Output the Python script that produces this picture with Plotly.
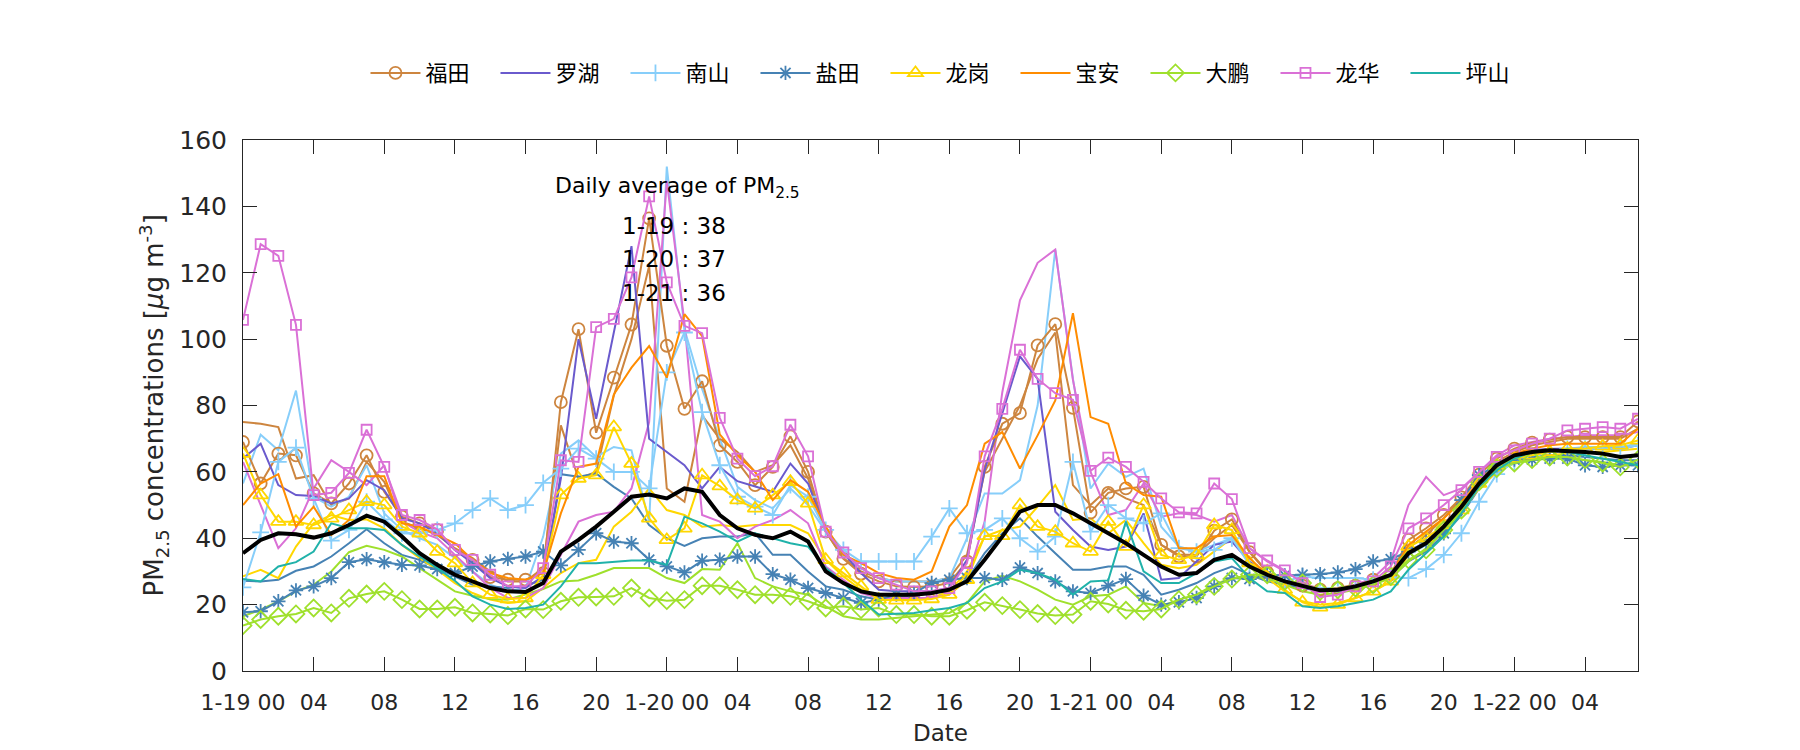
import plotly.graph_objects as go

hours = list(range(80))
tick_hours = list(range(0, 80, 4))
tick_labels = [("1-%d\u00a000" % (19 + h // 24)) if h % 24 == 0 else "%02d" % (h % 24) for h in tick_hours]

district_names = ["福田", "罗湖", "南山", "盐田", "龙岗", "宝安", "大鹏", "龙华", "坪山"]

futian_a = [69, 56.5, 65.5, 65, 53.5, 50.5, 56.5, 65, 54, 46.5, 44.5, 42.5, 36.5, 33.5, 28.3, 27.5, 27.5, 29.5,
            81, 103, 71.8, 88.4, 104.4, 136.4, 98, 79, 87.3,
            68, 63, 56, 61.5, 70.7, 60, 42, 33.8, 29.3, 27, 25.5, 25.3, 25.5, 26.5, 33, 61.5, 74.5, 77.7, 98.1, 104.5, 79.3, 47.7, 53.7, 55, 55.5, 38, 34.5,
            34.5, 42.3, 45.7, 35.8, 29.7, 27, 25.7, 24.5, 25, 25.7, 27.5, 29.2, 39.5, 43, 47, 52.3, 59.2, 64, 67, 68.8, 69.7, 70.5, 70.5, 70.5, 70.5, 75.2]
futian_b = [75, 74.5, 73.5, 58, 59, 50, 52, 63, 57, 45, 43, 41, 37, 34, 30, 27, 27, 31,
            74, 58, 60, 83, 100, 122, 55, 51, 77,
            70, 66, 60, 62, 68, 58, 42, 34, 30, 28, 27, 27, 27, 28, 35, 60, 70, 80, 94, 102, 56, 50, 55, 52, 50, 38, 35,
            35, 40, 44, 36, 30, 27, 26, 25, 25, 26, 27, 29, 37, 41, 46, 52, 58, 63, 66, 68, 69, 70, 70, 70, 70, 73]
luohu = [64, 68.5, 56, 53, 52.7, 50.5, 52, 57.5, 54.5, 46, 44.5, 41.5, 36.5, 32.5, 28, 25.5, 25, 28.5,
         58, 100, 76, 102, 128, 70, 66, 62, 55,
         61.5, 57.2, 55.5, 54, 62.5, 56.5, 42.5, 35.5, 29.5, 24.5, 24, 24, 24, 25, 33.5, 60.5, 78, 94.8, 88, 48, 42.5, 37.5, 36.5, 37.5, 47.5, 27.5, 28,
         33, 38, 39, 33, 29, 27, 25, 24, 24, 25, 27, 29, 36, 39, 44, 50, 57, 62, 65, 66.5, 67, 67, 67, 67, 67, 68]
nanshan_a = [25.2, 41.8, 63, 67.3, 52, 39.3, 42.5, 51, 45.7, 41.5, 41.5, 42.5, 44.5, 48.5, 52, 48.5, 50, 56.7,
             61, 67, 64, 60, 60, 55, 90, 102, 78,
             62, 52.5, 49.5, 47, 56, 52.5, 42.5, 36.5, 33, 33, 33, 33, 40.5, 49, 41.5, 42.5, 46, 40, 36, 40.5, 63, 42, 50, 46, 44.5, 47.5, 37,
             36, 36.5, 40, 32, 29, 27, 28.5, 28, 28, 28, 27.5, 28.2, 28, 30.7, 35, 41.5, 51, 59.3, 63, 65, 66, 67, 67, 67, 67, 68]
nanshan_b = [56.5, 71.2, 66.5, 84.5, 52.5, 49.5, 52.5, 62, 47.5, 42.5, 40, 38, 34, 30, 26, 24, 25, 40.5,
             65.5, 69.5, 64.5, 67.5, 66.5, 45, 152, 103, 85,
             70, 55.5, 51.5, 49, 55, 50, 42, 35, 31, 28, 27, 27, 27, 28, 40, 53.5, 53.5, 57.5, 80, 127, 88, 55, 62.5, 58.5, 61, 43.5, 37.5,
             36, 38, 40, 33, 29, 27, 25.5, 25, 25, 25.5, 27, 29, 35, 38, 43, 49, 56, 61, 64, 65.5, 66.5, 67, 67.5, 67.5, 67.5, 68.5]
yantian_a = [17.7, 18, 21, 24.3, 25.5, 28, 32.8, 33.7, 32.8, 32, 31.8, 30.7, 29.5, 31.5, 33, 33.8, 34.5, 36,
             31.8, 36.5, 41.5, 39, 38.5, 33.5, 31.5, 29.7, 33.2,
             33.5, 34.5, 34.5, 29.2, 27.5, 25, 23.5, 22, 20.5, 21.5, 23, 23.5, 26.5, 27.5, 28, 28, 27.5, 31.2, 29.5, 27, 24, 23.5, 25.7, 27.7, 22.7, 20, 20.7,
             22, 25.5, 28, 27.7, 29, 28.8, 29, 29.2, 29.7, 30.7, 33, 33.7, 36, 38.7, 41.5, 51.5, 59, 62, 63.7, 63.7, 64, 64, 62, 61.5, 62, 62]
yantian_b = [27.2, 27, 27.5, 30.2, 31.5, 34.5, 38.5, 42.7, 38.5, 35, 33.5, 31, 28.5, 26, 25.5, 25, 25.7, 27.5,
             59.3, 58.5, 59.5, 55.5, 52, 44, 40, 37.7, 40,
             40.5, 40.5, 41.5, 35, 35, 30, 25.5, 24.5, 22.5, 21.5, 22, 23, 24, 24.5, 27.5, 35.5, 41.5, 46, 40.5, 35.5, 30.5, 30.5, 31.5, 31.5, 29, 23, 24.5,
             26.5, 29.5, 31.5, 29, 27, 26, 25, 24.5, 24.5, 25, 26.5, 28, 33, 36, 41, 47, 55, 60, 63, 64.5, 65, 65, 64.5, 64, 63.5, 63.5]
longgang_a = [65.5, 53, 45, 45, 44, 46, 48.5, 51, 50, 43.5, 41.5, 36, 32.5, 26.5, 23, 21.7, 22, 29,
              53, 58, 59, 73.5, 62.5, 46, 39.5, 43, 59,
              55.7, 51.5, 49, 53, 57, 50.5, 33.5, 29.5, 25.5, 21.5, 21.3, 21.3, 21.7, 23, 27.5, 40.7, 40.7, 50, 43.5, 42, 38.5, 36, 45, 37.5, 50, 35, 33.5,
              35, 44, 42.5, 32.5, 30, 24.5, 20.7, 19.2, 20, 22, 24, 27, 37.5, 40, 44, 48.5, 56.5, 62, 64, 65, 66, 67, 67, 67.7, 68, 69.5]
longgang_b = [28.5, 30.5, 28, 37.5, 44.5, 47, 45.5, 45.7, 43, 38, 34, 30.5, 26.5, 23.5, 21.5, 20.5, 21, 25,
              29.5, 32.5, 33.5, 43.5, 48, 55, 48.5, 47, 43.5,
              44, 43.5, 44, 44, 44, 41.5, 33.5, 28.5, 24.5, 22, 21.5, 21.5, 22, 24, 30, 40.5, 42.5, 43.5, 49.5, 56, 45.5, 46, 41.5, 45.5, 38.5, 32, 31,
              32, 36, 40, 33, 28, 24, 21, 20, 20.5, 22, 24, 27, 35, 39, 43, 48, 55, 60, 63, 64, 65, 65.5, 66, 66, 66.5, 67]
baoan = [50, 56.5, 59.3, 43.5, 49.5, 41, 45.5, 58.7, 58.7, 44.5, 43.5, 41, 38.5, 33.5, 29.5, 28, 27.5, 29.5,
         47.5, 61.5, 62.5, 83.3, 91.4, 97.9, 88.4, 107.5, 100.9,
         71.3, 65, 60, 51.5, 57.5, 54, 43.5, 35, 32.5, 29.5, 28, 27.5, 30, 43.5, 50, 68.5, 72, 61, 71, 81.5, 107.8, 76.5, 74.5, 56.5, 53, 52.5, 37,
         37, 40.5, 41, 34, 29, 27, 25.5, 24.5, 24.5, 25.5, 27, 29, 38, 42, 46, 51, 57, 62, 65.5, 67, 68, 68.5, 68.5, 68.5, 68.5, 73]
dapeng_a = [13.7, 15.5, 16.5, 17.2, 19, 17.5, 21.9, 23.2, 24, 21.5, 18.7, 18.7, 19.2, 17.5, 17.2, 16.7, 18.7, 18.5,
            21, 22.2, 22.3, 22.5, 25, 22, 21.2, 21.5, 25.7,
            25.7, 24.5, 23, 23, 22.5, 21, 19, 19.5, 18.5, 19, 17, 17, 16.5, 16.5, 18.3, 20.7, 19.7, 18.5, 17.3, 16.7, 17, 21, 20.2, 18.3, 18, 18.7, 21.5,
            23, 25.5, 27.7, 29, 29, 27, 26.5, 24, 24.5, 25, 26, 28.5, 33.5, 36.5, 42.5, 48.5, 57, 61, 62.7, 63.7, 64.5, 64.5, 63.7, 62.7, 61.5, 63.7]
dapeng_b = [16.5, 18.5, 21, 24, 26, 30, 35.8, 37.7, 36.5, 34.5, 31, 27.5, 24, 22.7, 21.7, 21.5, 23, 24.7,
            27, 27.3, 29, 31, 31, 31, 28, 26.5, 30.7,
            30.5, 38.5, 28, 25.5, 24, 23, 19.5, 16.5, 15.5, 15.5, 16, 16.5, 17, 17.5, 20.5, 27, 28.7, 27, 24.5, 21.5, 20, 22.5, 23, 25.5, 20.5, 19.5, 21.5,
            23, 26, 28, 28.5, 28, 26, 24, 23, 23.5, 24.5, 26, 28, 33, 37, 42, 48, 56, 60.5, 62.5, 63.5, 64, 64, 63.5, 63, 62, 62.5]
longhua_a = [105.8, 128.6, 125.1, 104.3, 53, 53.7, 59.7, 72.7, 61.5, 47, 45.5, 42.7, 36.5, 33.5, 29, 25.5, 25.5, 31,
             63.5, 63, 103.6, 106.1, 118.6, 143, 117.1, 104, 101.8,
             76.3, 64, 58.7, 61.7, 74.2, 64.7, 42, 35.7, 31, 28, 26, 24, 24, 25, 32.5, 64.7, 79, 96.8, 88, 83.7, 81.7, 60.3, 64.3, 61.5, 57, 52, 47.8,
             47.5, 56.5, 51.8, 37, 33.3, 30.3, 26.5, 22.3, 23, 25.5, 27, 31.5, 43, 46, 50, 54.5, 60, 64.5, 66.5, 68.5, 70, 72.5, 73, 73.5, 73, 76]
longhua_b = [63, 50, 37, 43, 55, 63.5, 60, 56, 62, 45, 42, 40, 35, 30, 25, 22, 22, 25,
             35, 45, 47, 48, 55, 75, 147.7, 105, 47,
             45, 40, 43.5, 45.5, 48.5, 44.5, 31.5, 27.5, 23.5, 22, 22, 22, 22, 23, 27.5, 45, 84, 111.7, 123, 127, 87.7, 60, 47, 48.5, 56.5, 46.5, 47.5,
             47, 45, 47, 37, 33, 30, 27, 24, 24.5, 26, 28, 33, 50, 58.5, 53, 55, 60, 65, 68, 69, 70, 70.5, 71, 71, 71, 72]
pingshan = [27.7, 27, 31.5, 32.8, 36, 44.5, 43, 43, 42.5, 38, 34.5, 31, 27.2, 22.5, 20, 18.7, 19, 20,
            25.5, 32.5, 32.5, 32.8, 33.3, 33.3, 32, 46.5, 44.5,
            42, 39, 41.5, 40, 38.5, 37.5, 31, 26.5, 21.5, 17, 17.2, 17.5, 18.3, 19, 20.5, 25, 27, 30.5, 29.5, 27.5, 23, 27, 27.3, 45, 30, 26.5, 26.5,
            29.5, 33, 34, 28, 24, 23.5, 19.5, 19, 19.5, 20.5, 21.5, 24, 30.5, 35.5, 40.5, 47.5, 55.5, 60.5, 64, 66, 66.5, 66, 65, 64, 63, 62]
average = [35.5, 39.5, 41.5, 41.2, 40.2, 41.5, 44, 46.8, 45, 40.5, 35.5, 32, 29, 27, 25, 24, 23.8, 26.5,
           36, 39.5, 43.5, 48, 52.5, 53.2, 52, 55, 54,
           47, 43, 41, 40, 42, 39, 30, 26.5, 24, 23, 23, 23, 23.5, 24.5, 27, 33.5, 40.5, 48, 50, 50, 47.5, 44.5, 41.5, 38.5, 35, 31.5, 29,
           29.5, 33.5, 35, 31.5, 29, 27, 25.5, 24.3, 24.5, 25.5, 27, 29, 35.5, 38.5, 43.5, 49.5, 56.5, 62, 65, 66, 66.5, 66.3, 66, 65.5, 64.5, 65]

daily_avg_days = ["1-19", "1-20", "1-21"]
daily_avg_values = [38, 37, 36]

for arr in [futian_a, futian_b, luohu, nanshan_a, nanshan_b, yantian_a, yantian_b, longgang_a, longgang_b,
            baoan, dapeng_a, dapeng_b, longhua_a, longhua_b, pingshan, average]:
    assert len(arr) == 80, len(arr)

colors = {
    "福田": "#CD853F", "罗湖": "#6A5ACD", "南山": "#87CEFA", "盐田": "#4682B4", "龙岗": "#FFD700",
    "宝安": "#FF8C00", "大鹏": "#9FE02C", "龙华": "#DA70D6", "坪山": "#20B2AA",
}
symbols = {"福田": ("circle-open", 12), "南山": ("cross-thin-open", 12), "盐田": ("asterisk-open", 12),
           "龙岗": ("triangle-up-open", 13), "大鹏": ("diamond-open", 13), "龙华": ("square-open", 10)}

fig = go.Figure()

def add_line(y, name, legend, marked):
    c = colors[name]
    kw = dict(x=hours, y=y, name=name, showlegend=legend, legendgroup=name,
              line=dict(color=c, width=2), hoverinfo="skip")
    if marked and name in symbols:
        s, sz = symbols[name]
        kw["mode"] = "lines+markers"
        kw["marker"] = dict(symbol=s, size=sz, color=c, line=dict(color=c, width=1.8))
    else:
        kw["mode"] = "lines"
    fig.add_trace(go.Scatter(**kw))

# secondary (unmarked) stations first
add_line(futian_b, "福田", False, False)
add_line(nanshan_b, "南山", False, False)
add_line(yantian_b, "盐田", False, False)
add_line(longgang_b, "龙岗", False, False)
add_line(dapeng_b, "大鹏", False, False)
add_line(longhua_b, "龙华", False, False)

# legend stations
add_line(futian_a, "福田", True, True)
add_line(luohu, "罗湖", True, False)
add_line(nanshan_a, "南山", True, True)
add_line(yantian_a, "盐田", True, True)
add_line(longgang_a, "龙岗", True, True)
add_line(baoan, "宝安", True, False)
add_line(dapeng_a, "大鹏", True, True)
add_line(longhua_a, "龙华", True, True)
add_line(pingshan, "坪山", True, False)

fig.add_trace(go.Scatter(x=hours, y=average, mode="lines", name="Average", showlegend=False,
                         line=dict(color="black", width=4), hoverinfo="skip"))

ann_font = dict(family="DejaVu Sans, Liberation Sans, sans-serif", size=22, color="black")
line_font = dict(family="DejaVu Sans, Liberation Sans, sans-serif", size=23, color="black")
fig.add_annotation(x=24.6, y=145.6, xref="x", yref="y", text="Daily average of PM<sub>2.5</sub>",
                   showarrow=False, font=ann_font, xanchor="center", yanchor="middle")
for i, (d, v) in enumerate(zip(daily_avg_days, daily_avg_values)):
    fig.add_annotation(x=24.4, y=134.0 - i * 10.0, xref="x", yref="y", text="%s : %d" % (d, v),
                       showarrow=False, font=line_font, xanchor="center", yanchor="middle")

# y-axis title placed as a rotated annotation for exact positioning
fig.add_annotation(x=-0.0638, y=0.5, xref="paper", yref="paper",
                   text="PM<sub>2.5</sub> concentrations [<i>μ</i>g m<sup>-3</sup>]",
                   textangle=-90, showarrow=False, xanchor="center", yanchor="middle",
                   font=dict(family="DejaVu Sans, sans-serif", size=26, color="#262626"))

fig.update_layout(
    width=1800, height=750,
    paper_bgcolor="white", plot_bgcolor="white",
    margin=dict(l=235, r=170, t=132, b=87),
    font=dict(family="DejaVu Sans, sans-serif", color="#262626"),
    legend=dict(orientation="h", x=0.0878, xanchor="left", y=1.126, yanchor="middle",
                font=dict(family="Noto Sans CJK SC, sans-serif", size=22, color="black"),
                entrywidth=65, entrywidthmode="pixels", itemwidth=50,
                bgcolor="rgba(0,0,0,0)"),
    xaxis=dict(range=[0, 79], tickmode="array", tickvals=tick_hours, ticktext=tick_labels,
               ticks="inside", ticklen=14, tickwidth=1, tickcolor="#262626",
               showline=True, linecolor="#262626", linewidth=1, mirror="ticks",
               showgrid=False, zeroline=False,
               tickfont=dict(family="DejaVu Sans, sans-serif", size=22, color="#262626"), ticklabelstandoff=12,
               title=dict(text="Date", font=dict(family="DejaVu Sans, sans-serif", size=23, color="#262626"), standoff=10)),
    yaxis=dict(range=[0, 160], tickmode="array", tickvals=list(range(0, 161, 20)),
               ticks="inside", ticklen=14, tickwidth=1, tickcolor="#262626",
               showline=True, linecolor="#262626", linewidth=1, mirror="ticks",
               showgrid=False, zeroline=False,
               tickfont=dict(family="DejaVu Sans, sans-serif", size=25, color="#262626"), ticklabelstandoff=10),
)

fig.write_html("out.html")
